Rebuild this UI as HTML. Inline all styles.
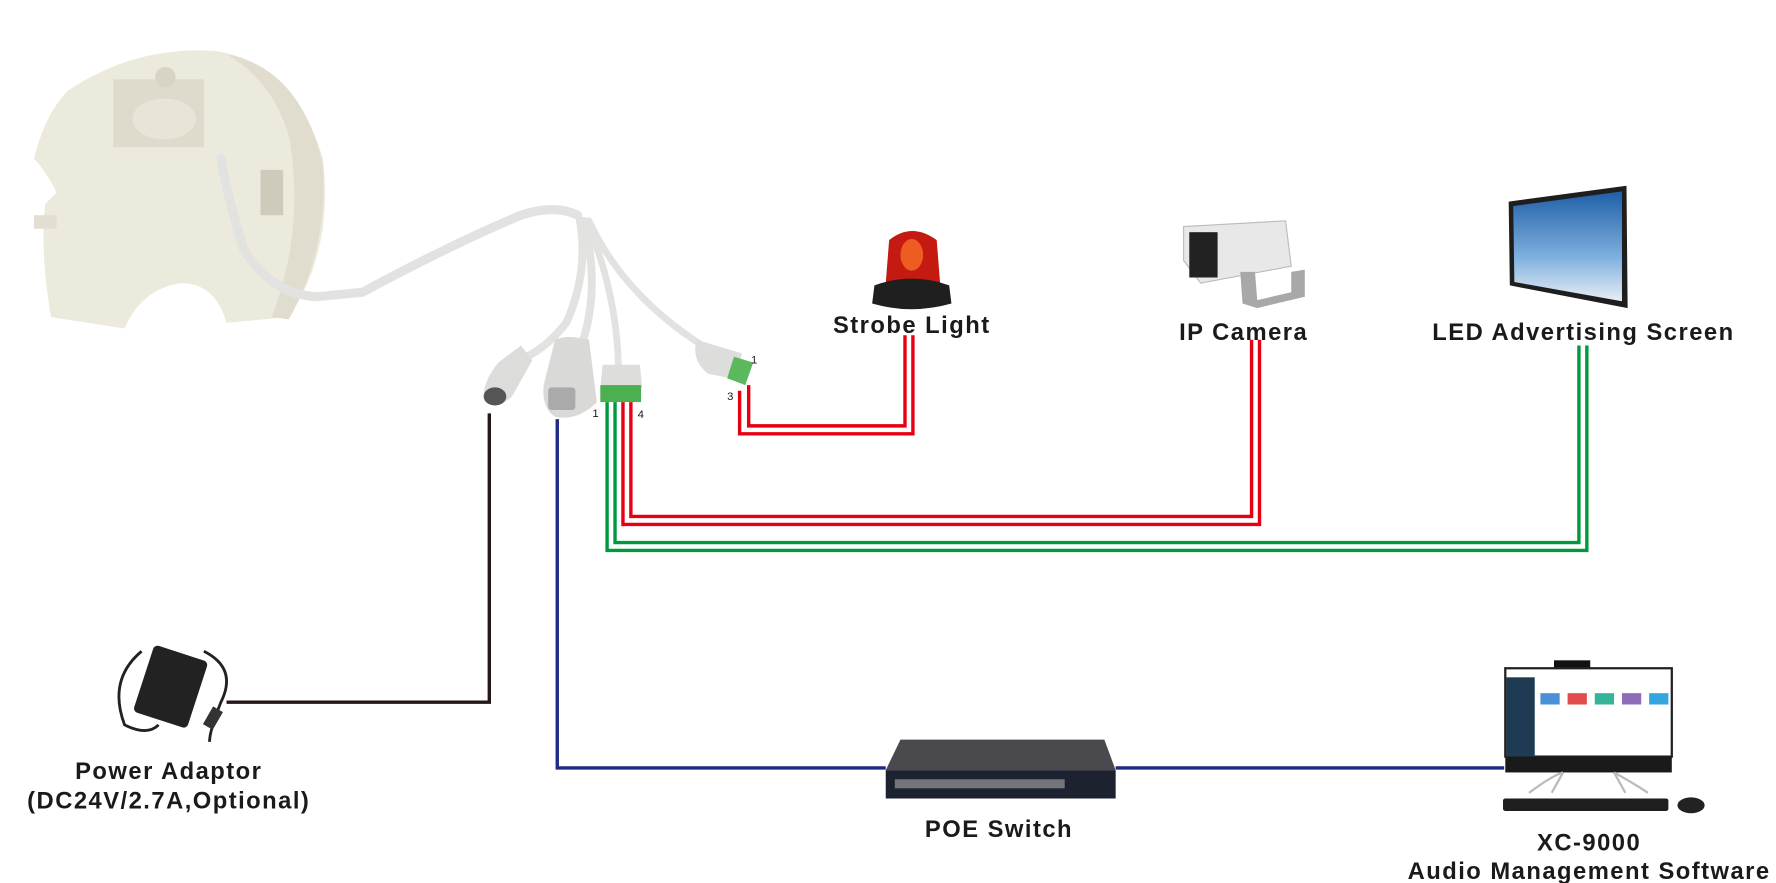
<!DOCTYPE html>
<html><head><meta charset="utf-8">
<style>
html,body{margin:0;padding:0;background:#fff;width:1776px;height:883px;overflow:hidden}
svg{display:block}
text{font-family:"Liberation Sans",Arial,sans-serif;font-weight:bold;fill:#1a1a1a;letter-spacing:1.3px}
</style></head><body>
<svg width="1776" height="883" viewBox="0 0 1568 779.6" preserveAspectRatio="none" xmlns="http://www.w3.org/2000/svg">
<rect width="1568" height="780" fill="#fff"/>
<!-- speaker body -->
<path d="M60 80 Q120 40 190 45 Q260 55 285 140 Q295 220 255 280 L200 285 Q190 250 160 250 Q125 255 110 290 L45 280 Q35 220 40 180 L50 170 Q40 150 30 140 Q40 100 60 80Z" fill="#ece9dd"/>
<path d="M200 48 Q265 60 285 145 Q290 220 255 282 L240 280 Q270 200 255 120 Q240 70 200 48Z" fill="#e1ddce"/>
<rect x="100" y="70" width="80" height="60" fill="#dfdbcc"/>
<ellipse cx="145" cy="105" rx="28" ry="18" fill="#e8e5d8"/>
<circle cx="146" cy="68" r="9" fill="#d8d4c4"/>
<rect x="230" y="150" width="20" height="40" fill="#cfcbbb"/>
<rect x="30" y="190" width="20" height="12" fill="#e2dfd2"/>
<!-- cables -->
<g fill="none" stroke="#e2e2e0" stroke-linecap="round">
<path d="M195 140 Q200 170 215 220 Q240 260 280 262 L320 258 Q400 215 460 190 Q490 180 510 190" stroke-width="8"/>
<path d="M512 195 Q520 240 500 285 Q480 310 458 318" stroke-width="7"/>
<path d="M515 195 Q530 250 515 300" stroke-width="7"/>
<path d="M518 195 Q545 260 546 325" stroke-width="6"/>
<path d="M520 195 Q550 260 620 305" stroke-width="6"/>
</g>
<!-- DC jack -->
<path d="M440 320 L460 305 L470 318 L452 350 Q440 362 428 354 Q424 340 440 320Z" fill="#dcdcda"/>
<ellipse cx="437" cy="350" rx="10" ry="8" fill="#555"/>
<!-- RJ45 -->
<path d="M490 300 Q500 295 520 300 L527 355 Q510 372 490 368 Q478 360 480 340Z" fill="#d9d9d7"/>
<rect x="484" y="342" width="24" height="20" rx="3" fill="#aaa"/>
<!-- 4-pin -->
<path d="M532 322 L565 322 L567 343 L530 343Z" fill="#dddddb"/>
<rect x="530" y="340" width="36" height="15" fill="#4caf50"/>
<!-- 2 pin -->
<path d="M615 300 L655 312 L650 335 L625 330 Q610 318 615 300Z" fill="#dddddb"/>
<path d="M648 315 L665 320 L658 340 L642 334Z" fill="#5cb85c"/>
<g font-size="10">
<text x="663" y="321" style="font-weight:normal;letter-spacing:0">1</text>
<text x="642" y="353" style="font-weight:normal;letter-spacing:0">3</text>
<text x="523" y="368" style="font-weight:normal;letter-spacing:0">1</text>
<text x="563" y="369" style="font-weight:normal;letter-spacing:0">4</text>
</g>
<!-- wires -->
<g fill="none" stroke-width="3">
<polyline points="432,365 432,620 200,620" stroke="#231815"/>
<polyline points="492,370 492,678 782,678" stroke="#1f2a86"/>
<line x1="985" y1="678" x2="1328" y2="678" stroke="#1f2a86"/>
<polyline points="536,355 536,486 1401,486 1401,305" stroke="#009a3e"/>
<polyline points="543,355 543,479 1394,479 1394,305" stroke="#009a3e"/>
<polyline points="550,355 550,463 1112,463 1112,300" stroke="#e60012"/>
<polyline points="557,355 557,456 1105,456 1105,300" stroke="#e60012"/>
<polyline points="653,345 653,383 806,383 806,296" stroke="#e60012"/>
<polyline points="661,340 661,376 799,376 799,296" stroke="#e60012"/>
</g>
<!-- strobe -->
<path d="M782 250 L785 212 Q805 196 827 212 L830 250Z" fill="#c41a12"/>
<ellipse cx="805" cy="225" rx="10" ry="14" fill="#ff7b2a" opacity="0.7"/>
<path d="M772 252 Q805 240 838 252 L840 268 Q805 278 770 268Z" fill="#1f1f1f"/>
<text x="805" y="294" font-size="21" text-anchor="middle">Strobe Light</text>
<!-- IP camera -->
<path d="M1045 200 L1135 195 L1140 235 L1060 250 L1045 230Z" fill="#e8e8e8" stroke="#bbb"/>
<rect x="1050" y="205" width="25" height="40" fill="#222"/>
<path d="M1095 240 L1108 240 L1110 265 L1140 258 L1140 240 L1152 238 L1152 262 L1110 272 L1097 268Z" fill="#a8a8a8"/>
<text x="1098" y="300" font-size="21" text-anchor="middle">IP  Camera</text>
<!-- LED screen -->
<path d="M1332 178 L1436 164 L1437 272 L1333 252Z" fill="#1e1e1e"/>
<defs><linearGradient id="sky" x1="0" y1="0" x2="0" y2="1"><stop offset="0" stop-color="#1f5fa8"/><stop offset="0.6" stop-color="#7fb0de"/><stop offset="1" stop-color="#e8eef5"/></linearGradient></defs>
<path d="M1336 182 L1432 169 L1432 266 L1337 249Z" fill="url(#sky)"/>
<text x="1398" y="300" font-size="21" text-anchor="middle">LED Advertising Screen</text>
<!-- power adaptor -->
<rect x="126" y="575" width="50" height="62" rx="4" fill="#222" transform="rotate(18 150 605)"/>
<path d="M125 575 Q95 600 110 640 Q130 650 140 640" fill="none" stroke="#222" stroke-width="2.5"/>
<path d="M180 575 Q210 590 195 620 Q185 645 185 655" fill="none" stroke="#222" stroke-width="2.5"/>
<rect x="183" y="625" width="10" height="18" fill="#333" transform="rotate(30 188 634)"/>
<text x="149" y="688" font-size="21" text-anchor="middle">Power Adaptor</text>
<text x="149" y="714" font-size="21" text-anchor="middle">(DC24V/2.7A,Optional)</text>
<!-- POE switch -->
<path d="M795 653 L975 653 L985 680 L782 680Z" fill="#4a4a4e"/>
<rect x="782" y="680" width="203" height="25" fill="#1d2230"/>
<rect x="790" y="688" width="150" height="8" fill="#8b8b8b" opacity="0.8"/>
<text x="882" y="739" font-size="21" text-anchor="middle">POE Switch</text>
<!-- computer -->
<rect x="1372" y="583" width="32" height="8" fill="#111"/>
<rect x="1329" y="590" width="147" height="78" fill="#ffffff" stroke="#222" stroke-width="2"/>
<rect x="1330" y="598" width="25" height="70" fill="#1f3b53"/>
<rect x="1360" y="612" width="17" height="10" fill="#4a90d9"/>
<rect x="1384" y="612" width="17" height="10" fill="#e14b4b"/>
<rect x="1408" y="612" width="17" height="10" fill="#35b597"/>
<rect x="1432" y="612" width="17" height="10" fill="#8d6cb8"/>
<rect x="1456" y="612" width="17" height="10" fill="#33a6e0"/>
<rect x="1329" y="668" width="147" height="14" fill="#1a1a1a"/>
<path d="M1350 700 Q1370 685 1380 682 M1455 700 Q1440 690 1425 682 M1380 682 L1370 700 M1425 682 L1435 700" stroke="#bbb" stroke-width="2" fill="none"/>
<rect x="1327" y="705" width="146" height="11" rx="2" fill="#1e1e1e"/>
<ellipse cx="1493" cy="711" rx="12" ry="7" fill="#222"/>
<text x="1403" y="751" font-size="21" text-anchor="middle">XC-9000</text>
<text x="1403" y="776" font-size="21" text-anchor="middle">Audio Management Software</text>
</svg>
</body></html>
